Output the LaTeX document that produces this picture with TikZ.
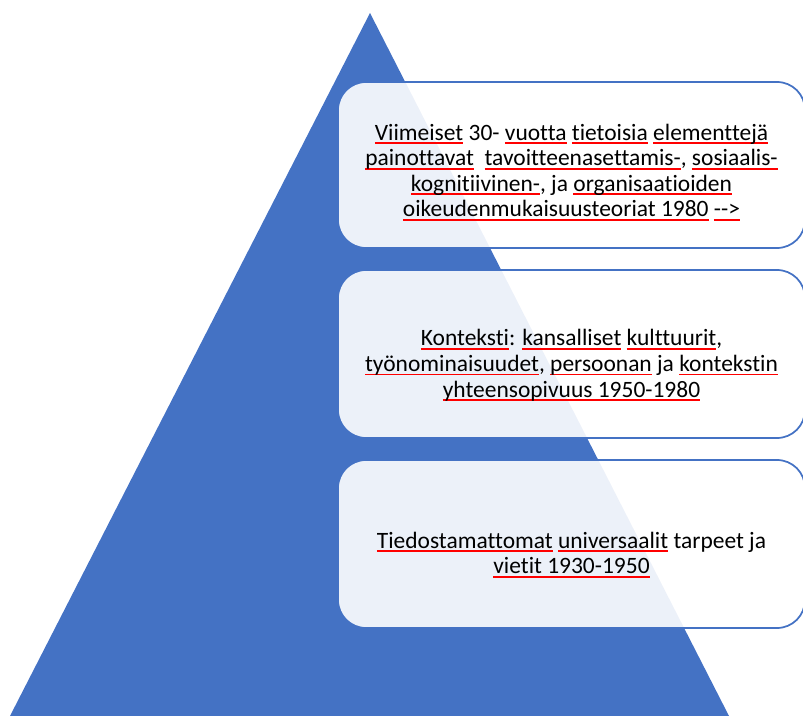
\documentclass[tikz,border=0pt]{standalone}
\usepackage{fontspec}
\setmainfont{Carlito}[Ligatures={NoCommon}]
\definecolor{pblue}{HTML}{4472C4}
\newcommand\sq[1]{\setbox0\hbox{#1}\rlap{\color{red}\rule[-3pt]{\wd0}{1.4pt}}\box0\relax}
\begin{document}
\begin{tikzpicture}[x=0.75pt,y=-0.75pt,
  box/.style={draw=pblue, line width=1.3pt, fill=white, fill opacity=0.9,
    rounded corners=21pt, inner sep=0pt},
  txt/.style={align=center, font=\fontsize{17.6}{19.2}\selectfont, text=black, inner sep=0pt}]
\useasboundingbox (0,0) rectangle (803,716);
\clip (0,0) rectangle (803,716);
\fill[pblue] (370,13) -- (10,716) -- (729,716) -- cycle;
\node[box, minimum width=350.25pt, minimum height=124.5pt] (b1) at (571.5,165) {};
\node[box, minimum width=350.25pt, minimum height=126pt] (b2) at (571.5,354) {};
\node[box, minimum width=350.25pt, minimum height=126pt] (b3) at (571.5,544) {};
\node[txt] (t1) at ([yshift=-5.5pt]b1.center) {\sq{Viimeiset} 30- \sq{vuotta} \sq{tietoisia} \sq{elementtejä}\\
\sq{painottavat}\ \ \sq{tavoitteenasettamis-}, \sq{sosiaalis-}\\
\sq{kognitiivinen-}, ja \sq{organisaatioiden}\\
\sq{oikeudenmukaisuusteoriat 1980} \sq{-{}-{}>}};
\node[txt] (t2) at ([yshift=-8.5pt]b2.center) {\sq{Konteksti}: \sq{kansalliset} \sq{kulttuurit},\\
\sq{työnominaisuudet}, \sq{persoonan} ja \sq{kontekstin}\\
\sq{yhteensopivuus 1950-1980}};
\node[txt] (t3) at ([yshift=-8pt]b3.center) {\sq{Tiedostamattomat} \sq{universaalit} tarpeet ja\\
\sq{vietit 1930-1950}};
\end{tikzpicture}
\end{document}
